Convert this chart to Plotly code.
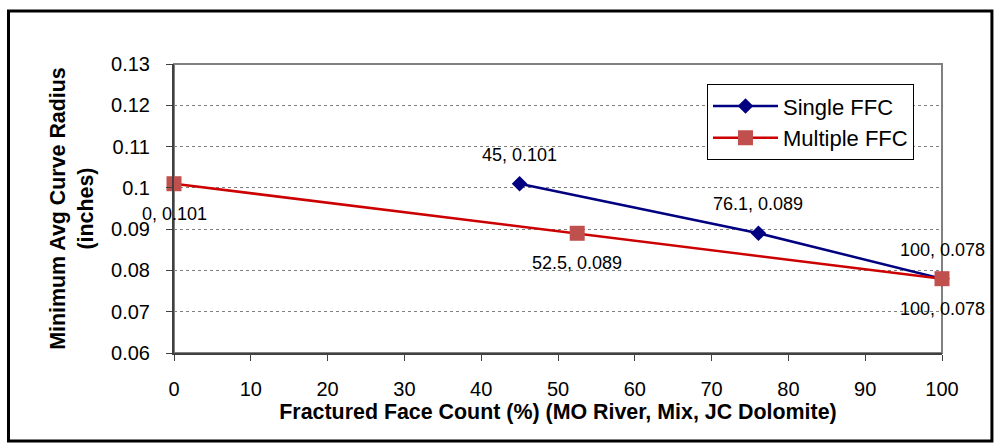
import plotly.graph_objects as go

# Series data
single_x = [45, 76.1, 100]
single_y = [0.101, 0.089, 0.078]
multi_x = [0, 52.5, 100]
multi_y = [0.101, 0.089, 0.078]

x_ticks = [0, 10, 20, 30, 40, 50, 60, 70, 80, 90, 100]
y_ticks = [0.06, 0.07, 0.08, 0.09, 0.10, 0.11, 0.12, 0.13]
y_tick_text = ["0.06", "0.07", "0.08", "0.09", "0.1", "0.11", "0.12", "0.13"]

FONT = "Liberation Sans, Arial, sans-serif"
NAVY = "#000080"
RED = "#CC0000"
SQUARE = "#C0504D"

fig = go.Figure()
fig.add_trace(go.Scatter(
    x=single_x, y=single_y, name="Single FFC", mode="lines+markers",
    line=dict(color=NAVY, width=2.5),
    marker=dict(symbol="diamond", size=12, color=NAVY),
    cliponaxis=False,
))
fig.add_trace(go.Scatter(
    x=multi_x, y=multi_y, name="Multiple FFC", mode="lines+markers",
    line=dict(color=RED, width=2.5),
    marker=dict(symbol="square", size=15, color=SQUARE),
    cliponaxis=False,
))

# Data labels: Single FFC above the points, Multiple FFC below
def fmt(v):
    return ("%g" % v)

annotations = []
for xv, yv in zip(single_x, single_y):
    annotations.append(dict(x=xv, y=yv, text=f"{fmt(xv)}, {fmt(yv)}", showarrow=False,
                            yshift=29, font=dict(family=FONT, size=18, color="black")))
for xv, yv in zip(multi_x, multi_y):
    annotations.append(dict(x=xv, y=yv, text=f"{fmt(xv)}, {fmt(yv)}", showarrow=False,
                            yshift=-30, font=dict(family=FONT, size=18, color="black")))

shapes = [
    # plot-area frame (top and right edges)
    dict(type="rect", xref="paper", yref="paper", x0=0, x1=1, y0=0, y1=1,
         line=dict(color="#808080", width=2), layer="below"),
    # outer chart frame
    dict(type="rect", xref="paper", yref="paper", x0=-0.2155, x1=1.065, y0=-0.3045, y1=1.183,
         line=dict(color="black", width=3)),
]

fig.update_layout(
    width=997, height=444,
    margin=dict(l=174, r=55, t=64, b=91),
    paper_bgcolor="white", plot_bgcolor="white",
    font=dict(family=FONT, size=20, color="black"),
    showlegend=True,
    legend=dict(
        x=0.694, y=0.93, xanchor="left", yanchor="top",
        bordercolor="black", borderwidth=1, bgcolor="white",
        font=dict(family=FONT, size=22, color="black"),
        itemwidth=65,
    ),
    annotations=annotations,
    shapes=shapes,
)

fig.update_xaxes(
    range=[0, 100], tickvals=x_ticks, ticks="outside", ticklen=6, tickwidth=1,
    tickcolor="#404040", showline=True, linecolor="#404040", linewidth=2,
    showgrid=False, zeroline=False, ticklabelstandoff=11,
    tickfont=dict(family=FONT, size=20),
    title=dict(text="<b>Fractured Face Count (%) (MO River, Mix, JC Dolomite)</b>",
               font=dict(family=FONT, size=21.4), standoff=4),
)
fig.update_yaxes(
    range=[0.06, 0.13], tickvals=y_ticks, ticktext=y_tick_text, ticks="outside",
    ticklen=6, tickwidth=1, tickcolor="#404040", showline=True, linecolor="#404040",
    linewidth=2, showgrid=True, gridcolor="#808080", griddash="dot", gridwidth=1,
    zeroline=False, ticklabelstandoff=12,
    tickfont=dict(family=FONT, size=20),
    title=dict(text="<b>Minimum Avg Curve Radius<br>(inches)</b>",
               font=dict(family=FONT, size=21.4), standoff=12),
)

fig.write_html("out.html")
